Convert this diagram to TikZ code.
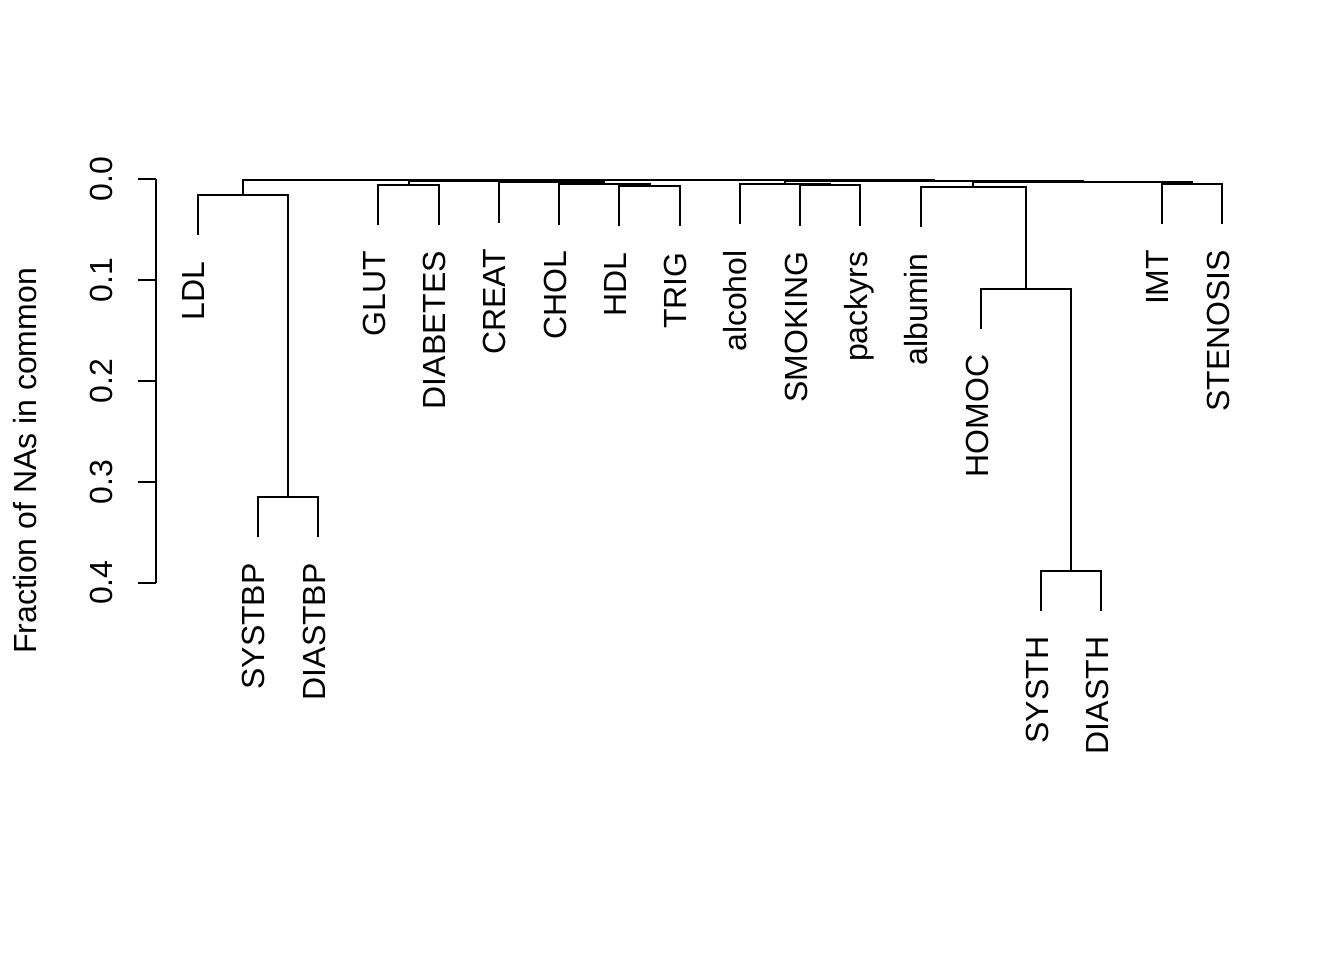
\documentclass[tikz,border=0pt]{standalone}
\usepackage{fontspec}
\setmainfont{Liberation Sans}
\usepackage{tikz}
\usetikzlibrary{calc}
\tikzset{branch/.style={line width=0.75pt},
leaf label/.style={anchor=mid east,rotate=90,inner sep=0pt},
tick label/.style={rotate=90,inner sep=0pt}}

\begin{document}
\begin{tikzpicture}[x=0.375pt,y=-0.375pt,font=\fontsize{12}{14}\selectfont]
\useasboundingbox (0,0) rectangle (1344,960);

\draw[branch] (156,179.3) -- (156,582.7);
\foreach \t [count=\i from 0] in {0.0,0.1,0.2,0.3,0.4}
         {
           \draw[branch] (156,179.3+100.85*\i) -- (138,179.3+100.85*\i);
           \node[tick label] at (101,179.3+100.85*\i) {\t};
         }
\node[rotate=90,inner sep=0pt] (ylab) at (25,461) {Fraction of NAs in common};

\foreach \n/\x/\e in {LDL/197.7/235.3,SYSTBP/257.95/537.3,DIASTBP/318.2/537.3,
  GLUT/378.45/224.8,DIABETES/438.7/224.8,CREAT/498.95/222.6,CHOL/559.2/224.6,
  HDL/619.45/226.3,TRIG/679.7/226.3,alcohol/739.95/224.3,SMOKING/800.2/225.6,
  packyrs/860.45/225.6,albumin/920.7/227.3,HOMOC/980.95/328.8,SYSTH/1041.2/610.8,
  DIASTH/1101.45/610.8,IMT/1161.7/223.8,STENOSIS/1221.95/223.8}
         {
           \coordinate (l\n) at (\x,\e);
           \node[leaf label] (t\n) at (\x,\e+25.5) {\n};
         }

\coordinate (mBP) at (288.1,497);
\coordinate (mLDL) at (242.9,195);
\coordinate (mGL) at (408.6,184.5);
\coordinate (mHT) at (649.6,186);
\coordinate (mCH) at (604.4,184.3);
\coordinate (mCR) at (551.7,182.3);
\coordinate (mLip) at (480.1,181);
\coordinate (mLeft) at (361.5,180.3);
\coordinate (mSP) at (830.3,185.3);
\coordinate (mAl) at (785.1,184);
\coordinate (mTH) at (1071.3,570.5);
\coordinate (mHO) at (1026.1,288.5);
\coordinate (mAb) at (973.4,187);
\coordinate (mIS) at (1191.8,183.5);
\coordinate (mRt) at (1082.6,181.7);
\coordinate (mRight) at (933.9,180.6);
\coordinate (mTop) at (647.7,179.5);

\draw[branch] (lSYSTBP) |- (mBP) -| (lDIASTBP);
\draw[branch] (lLDL) |- (mLDL) -| (mBP);
\draw[branch] (lGLUT) |- (mGL) -| (lDIABETES);
\draw[branch] (lHDL) |- (mHT) -| (lTRIG);
\draw[branch] (lCHOL) |- (mCH) -| (mHT);
\draw[branch] (lCREAT) |- (mCR) -| (mCH);
\draw[branch] (mGL) |- (mLip) -| (mCR);
\draw[branch] (mLDL) |- (mLeft) -| (mLip);
\draw[branch] (lSMOKING) |- (mSP) -| (lpackyrs);
\draw[branch] (lalcohol) |- (mAl) -| (mSP);
\draw[branch] (lSYSTH) |- (mTH) -| (lDIASTH);
\draw[branch] (lHOMOC) |- (mHO) -| (mTH);
\draw[branch] (lalbumin) |- (mAb) -| (mHO);
\draw[branch] (lIMT) |- (mIS) -| (lSTENOSIS);
\draw[branch] (mAb) |- (mRt) -| (mIS);
\draw[branch] (mAl) |- (mRight) -| (mRt);
\draw[branch] (mLeft) |- (mTop) -| (mRight);

\end{tikzpicture}
\end{document}
